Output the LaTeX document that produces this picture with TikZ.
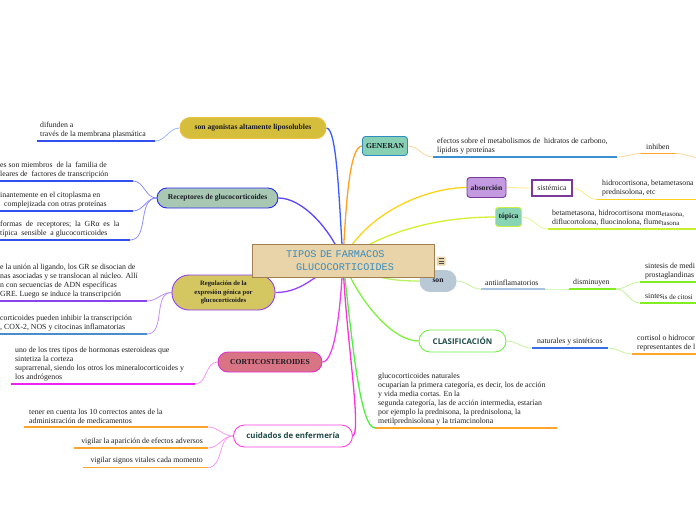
\documentclass[tikz,border=0pt]{standalone}
\usepackage{fontspec}
\setmainfont{Liberation Serif}
\newfontfamily\monof{Liberation Mono}
\newfontfamily\osans{Open Sans}
\pgfdeclarelayer{bg}
\pgfsetlayers{bg,main}
\definecolor{ctrFill}{HTML}{E8D4A8}
\definecolor{ctrDraw}{HTML}{A08050}
\definecolor{ctrText}{HTML}{3A8CC0}
\definecolor{agFill}{HTML}{D4BE3C}
\definecolor{agDraw}{HTML}{F0C040}
\definecolor{reFill}{HTML}{A8C8B4}
\definecolor{reDraw}{HTML}{2A2AEE}
\definecolor{rgFill}{HTML}{D4C660}
\definecolor{rgDraw}{HTML}{9040F0}
\definecolor{coFill}{HTML}{D87484}
\definecolor{coDraw}{HTML}{E030D0}
\definecolor{cuDraw}{HTML}{FF40E0}
\definecolor{geFill}{HTML}{88D0B4}
\definecolor{geDraw}{HTML}{2E8CC0}
\definecolor{abFill}{HTML}{C49AE0}
\definecolor{abDraw}{HTML}{7A3A9A}
\definecolor{toFill}{HTML}{88D4B4}
\definecolor{toDraw}{HTML}{C8F040}
\definecolor{soFill}{HTML}{B8C8D4}
\definecolor{clDraw}{HTML}{70F040}
\definecolor{darkTeal}{HTML}{1E4A46}
\definecolor{topicText}{HTML}{1A1A22}
\definecolor{lnAg}{HTML}{3B5BFF}
\definecolor{lnRe}{HTML}{5A46FF}
\definecolor{lnRg}{HTML}{9A40FF}
\definecolor{lnCo}{HTML}{F040F0}
\definecolor{lnCu}{HTML}{FF30D8}
\definecolor{lnGe}{HTML}{FFA020}
\definecolor{lnAb}{HTML}{FFD21A}
\definecolor{lnTo}{HTML}{D4F030}
\definecolor{lnSo}{HTML}{B8F060}
\definecolor{lnCl}{HTML}{80F040}
\definecolor{lnGl}{HTML}{50F040}
\definecolor{slBlue}{HTML}{9AB8FF}
\definecolor{slRe}{HTML}{8C8CFF}
\definecolor{slRg}{HTML}{C090FF}
\definecolor{slMag}{HTML}{F39AF0}
\definecolor{slOr}{HTML}{FFD49A}
\definecolor{slYe}{HTML}{FFE98A}
\definecolor{slTo}{HTML}{E2F59A}
\definecolor{slGr}{HTML}{C4F49A}
\definecolor{ulBlue}{HTML}{3350EE}
\definecolor{ulPur}{HTML}{8844EE}
\definecolor{ulSteel}{HTML}{4A8CCC}
\definecolor{ulMag}{HTML}{EE22EE}
\definecolor{ulOr}{HTML}{FFA52A}
\definecolor{ulGe}{HTML}{3A90D0}
\definecolor{ulYe}{HTML}{FFD21A}
\definecolor{ulTo}{HTML}{C8F030}
\definecolor{ulAnti}{HTML}{A8C4E0}
\definecolor{ulGr}{HTML}{80EE20}
\definecolor{ulNat}{HTML}{3A6EE8}
\tikzset{
  txt/.style={font=\fontsize{7.8}{9}\selectfont, align=left, inner sep=0pt, anchor=south west, text=black!88},
  txtr/.style={txt, align=right, anchor=south east},
  topic/.style={font=\fontsize{7.6}{8}\selectfont\bfseries, inner sep=0pt, text=topicText, line width=0.9pt, align=center},
  stopic/.style={font=\osans\fontsize{7.9}{8}\selectfont\bfseries, inner sep=0pt, text=darkTeal, line width=0.9pt, fill=white},
  ul/.style={line width=1.8pt},
  mc/.style={line width=1.3pt},
  sc/.style={line width=0.8pt, out=0, in=180},
}
\begin{document}
\begin{tikzpicture}[x=1pt,y=-1pt]
\useasboundingbox (0,0) rectangle (696,520);
\clip (0,0) rectangle (696,520);

% ---------- topic nodes ----------
\node[topic, fill=agFill, draw=agDraw, rounded corners=10pt, minimum width=146pt, minimum height=21pt] (agon) at (253,128) {son agonistas altamente liposolubles};
\node[topic, fill=reFill, draw=reDraw, rounded corners=10pt, minimum width=121pt, minimum height=20pt] (rec) at (217.5,198) {Receptores de glucocorticoides};
\node[topic, font=\fontsize{6.6}{8.5}\selectfont\bfseries, fill=rgFill, draw=rgDraw, rounded corners=17pt, minimum width=103pt, minimum height=35pt] (reg) at (223.5,292.5) {Regulación de la\\expresión génica por\\glucocorticoides};
\node[topic, fill=coFill, draw=coDraw, rounded corners=10pt, minimum width=104pt, minimum height=20pt] (cort) at (270,362) {CORTICOSTEROIDES};
\node[stopic, draw=cuDraw, rounded corners=11pt, minimum width=119pt, minimum height=22pt] (cuid) at (293,436) {cuidados de enfermería};
\node[topic, fill=geFill, draw=geDraw, rounded corners=3pt, minimum width=45pt, minimum height=19pt] (gen) at (385,146) {GENERAN};
\node[topic, fill=abFill, draw=abDraw, rounded corners=3pt, minimum width=39pt, minimum height=20pt] (abs) at (486.5,187.5) {absorción};
\node[font=\fontsize{7.8}{8}\selectfont, inner sep=0pt, text=black!85, fill=white, draw=abDraw, line width=1.1pt, minimum width=40pt, minimum height=16pt] (sis) at (552,188) {sistémica};
\node[topic, fill=toFill, draw=toDraw, rounded corners=3pt, minimum width=26pt, minimum height=19pt] (topi) at (508.5,217) {tópica};
\node[topic, fill=soFill, draw=soFill, rounded corners=10pt, minimum width=36pt, minimum height=21pt] (son) at (438,281) {son};
\node[stopic, draw=clDraw, rounded corners=11pt, minimum width=87pt, minimum height=22pt] (cla) at (462.5,341) {CLASIFICACIÓN};

% central node (drawn after "son", so it covers it)
\node[draw=ctrDraw, fill=ctrFill, line width=1pt, minimum width=182pt, minimum height=33pt, inner xsep=34pt, text width=114pt, font=\monof\fontsize{10.2}{13}\selectfont, text=ctrText, align=left] (ctr) at (343,260.5) {TIPOS DE FARMACOS\\\hspace*{10pt}GLUCOCORTICOIDES};
\node[fill=ctrFill, rounded corners=1pt, minimum width=9pt, minimum height=9pt, inner sep=0pt] (ico) at (441,261) {};
\draw[line width=0.8pt, black!70] (438.5,258.5) -- (443.5,258.5) (438.5,261) -- (443.5,261) (438.5,263.5) -- (443.5,263.5);

% ---------- left texts ----------
\node[txt] (t1) at (40,138) {difunden a\\través de la membrana plasmática};
\draw[ul,ulBlue] (37,141) -- (155,141) coordinate (u1);
\node[txt] (t2) at (0,178) {es son miembros\ \ de la\ \ familia de\\leares de\ \ factores de transcripción};
\draw[ul,ulBlue] (-2,181) -- (133,181) coordinate (u2);
\node[txt] (t3) at (0,208) {inantemente en el citoplasma en\\\hspace*{4pt}complejizada con otras proteínas};
\draw[ul,ulBlue] (-2,211) -- (133,211) coordinate (u3);
\node[txt] (t4) at (0,237) {formas\ \ de\ \ receptores;\ \ la\ \ GRα\ \ es\ \ la\\típica\ \ sensible\ \ a glucocorticoides};
\draw[ul,ulBlue] (-2,240) -- (130,240) coordinate (u4);
\node[txt] (t5) at (0,298) {e la unión al ligando, los GR se disocian de\\nas asociadas y se translocan al núcleo. Allí\\n con secuencias de ADN específicas\\GRE. Luego se induce la transcripción};
\draw[ul,ulPur] (-2,301) -- (147,301) coordinate (u5);
\node[txt] (t6) at (0,331) {corticoides pueden inhibir la transcripción\\, COX-2, NOS y citocinas inflamatorias};
\draw[ul,ulSteel] (-2,334) -- (147,334) coordinate (u6);
\node[txt] (t7) at (15,381) {uno de los tres tipos de hormonas esteroideas que\\sintetiza la corteza\\suprarrenal, siendo los otros los mineralocorticoides y\\los andrógenos};
\draw[ul,ulMag] (11,384) -- (195,384) coordinate (u7);
\node[txt] (t8) at (29,424) {tener en cuenta los 10 correctos antes de la\\administración de medicamentos};
\draw[ul,ulOr] (24,427) -- (208,427) coordinate (u8);
\node[txtr] (t9) at (203,445) {vigilar la aparición de efectos adversos};
\draw[ul,ulOr] (74,448) -- (208,448) coordinate (u9);
\node[txtr] (t10) at (203,464.5) {vigilar signos vitales cada momento};
\draw[ul,ulOr] (83,467.5) -- (208,467.5) coordinate (u10);

% ---------- right texts ----------
\node[txt] (t11) at (437,154) {efectos sobre el metabolismos de\ \ hidratos de carbono,\\lípidos y proteínas};
\draw[ul,ulGe] (433,157) coordinate (u11a) -- (617,157) coordinate (u11);
\node[txt] (t12) at (646,150) {inhiben};
\draw[ul,ulOr] (641,153.5) coordinate (u12a) -- (675,153.5) coordinate (u12);
\coordinate (offR) at (706,159);
\node[txt] (t13) at (602,196) {hidrocortisona, betametasona\\prednisolona, etc};
\draw[ul,ulYe] (597,199.5) coordinate (u13a) -- (700,199.5);
\node[txt] (t14) at (552,226) {betametasona, hidrocortisona mom\raisebox{-0.8pt}{\fontsize{6.9}{7}\selectfont etasona,}\\diflucortolona, fluocinolona, flume\raisebox{-0.8pt}{\fontsize{6.9}{7}\selectfont tasona}};
\draw[ul,ulTo] (548,229) coordinate (u14a) -- (700,229);
\node[txt] (t15) at (485,286) {antiinflamatorios};
\draw[ul,ulAnti] (481,289) coordinate (u15a) -- (545,289) coordinate (u15);
\node[txt] (t16) at (573,286) {disminuyen};
\draw[ul,ulGr] (569,289) coordinate (u16a) -- (616,289) coordinate (u16);
\node[txt] (t17) at (645,279) {sintesis de medi\\prostaglandinas};
\draw[ul,ulGr] (640,282) coordinate (u17a) -- (700,282);
\node[txt] (t18) at (645,300) {sintes\raisebox{-0.8pt}{\fontsize{7}{7}\selectfont is de citosi}};
\draw[ul,ulGr] (640,303) coordinate (u18a) -- (700,303);
\node[txt] (t19) at (537,345) {naturales y sintéticos};
\draw[ul,ulNat] (532,348) coordinate (u19a) -- (608,348) coordinate (u19);
\node[txt] (t20) at (637,351) {cortisol o hidrocor\\representantes de l};
\draw[ul,ulOr] (632,354) coordinate (u20a) -- (700,354);
\node[txt] (t21) at (378,425) {glucocorticoides naturales\\ocuparían la primera categoría, es decir, los de acción\\y vida media cortas. En la\\segunda categoría, las de acción intermedia, estarían\\por ejemplo la prednisona, la prednisolona, la\\metilprednisolona y la triamcinolona};
\draw[ul,ulOr] (375,428) coordinate (u21a) -- (557,428);

% ---------- connectors ----------
\begin{pgfonlayer}{bg}
\draw[mc,lnAg] (agon.east) .. controls (337,128) and (339,200) .. (ctr.center);
\draw[mc,lnRe] (rec.east) .. controls (302,198) and (330,228) .. (ctr.center);
\draw[mc,lnRg] (reg.east) .. controls (305,293) and (322,268) .. (ctr.center);
\draw[mc,lnCo] (cort.east) .. controls (336,362) and (341,300) .. (ctr.center);
\draw[mc,lnCu] (cuid.east) .. controls (362,430) and (345,330) .. (ctr.center);
\draw[mc,lnGe] (gen.west) .. controls (350,146) and (346,200) .. (ctr.center);
\draw[mc,lnAb] (abs.west) .. controls (420,188) and (362,218) .. (ctr.center);
\draw[mc,lnTo] (topi.west) .. controls (440,217) and (385,230) .. (ctr.center);
\draw[mc,lnSo] (ctr.center) .. controls (370,281) and (405,281) .. (son.west);
\draw[mc,lnCl] (ctr.center) .. controls (358,300) and (392,341) .. (cla.west);
\draw[mc,lnGl] (ctr.center) .. controls (352,340) and (360,428) .. (u21a);
\draw[sc,slBlue] (u1) to (agon.west);
\draw[sc,slRe] (u2) to (rec.west);
\draw[sc,slRe] (u3) to (rec.west);
\draw[sc,slRe] (u4) to (rec.west);
\draw[sc,slRg] (u5) to (reg.west);
\draw[sc,slRg] (u6) to (reg.west);
\draw[sc,slMag] (u7) to (cort.west);
\draw[sc,slMag] (u8) to (cuid.west);
\draw[sc,slMag] (u9) to (cuid.west);
\draw[sc,slMag] (u10) to (cuid.west);
\draw[sc,slOr] (gen.east) to (u11a);
\draw[sc,slOr] (u11) to (u12a);
\draw[sc,slOr] (u12) to (offR);
\draw[sc,slYe] (abs.east) to (sis.west);
\draw[sc,slYe] (sis.east) to (u13a);
\draw[sc,slTo] (topi.east) to (u14a);
\draw[sc,slGr] (son.east) to (u15a);
\draw[sc,slGr] (u15) to (u16a);
\draw[sc,slGr] (u16) to (u17a);
\draw[sc,slGr] (u16) to (u18a);
\draw[sc,slGr] (cla.east) to (u19a);
\draw[sc,slGr] (u19) to (u20a);
\end{pgfonlayer}
\end{tikzpicture}
\end{document}
